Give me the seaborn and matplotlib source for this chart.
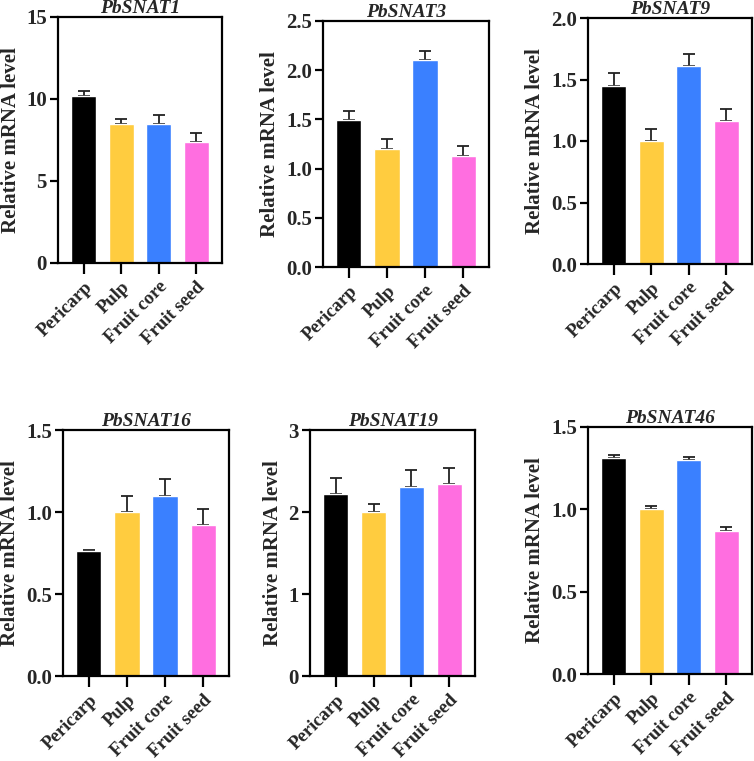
import matplotlib
matplotlib.use('Agg')
import matplotlib.pyplot as plt
import seaborn as sns
import pandas as pd

tissues = ['Pericarp', 'Pulp', 'Fruit core', 'Fruit seed']
colors = ['#000000', '#FFCC3F', '#3A80FF', '#FF6EE0']

genes = ['PbSNAT1', 'PbSNAT3', 'PbSNAT9', 'PbSNAT16', 'PbSNAT19', 'PbSNAT46']

snat1_mean = [10.2, 8.5, 8.5, 7.4]
snat1_err = [0.3, 0.3, 0.5, 0.5]
snat3_mean = [1.49, 1.20, 2.10, 1.13]
snat3_err = [0.10, 0.10, 0.10, 0.10]
snat9_mean = [1.45, 1.00, 1.61, 1.16]
snat9_err = [0.10, 0.10, 0.10, 0.10]
snat16_mean = [0.76, 1.00, 1.10, 0.92]
snat16_err = [0.01, 0.10, 0.10, 0.10]
snat19_mean = [2.22, 2.00, 2.31, 2.34]
snat19_err = [0.20, 0.10, 0.20, 0.20]
snat46_mean = [1.31, 1.00, 1.30, 0.87]
snat46_err = [0.02, 0.02, 0.02, 0.02]

means = [snat1_mean, snat3_mean, snat9_mean, snat16_mean, snat19_mean, snat46_mean]
errs = [snat1_err, snat3_err, snat9_err, snat16_err, snat19_err, snat46_err]
y_max = [15, 2.5, 2.0, 1.5, 3, 1.5]
y_step = [5, 0.5, 0.5, 0.5, 1, 0.5]
y_fmt = ['{:.0f}', '{:.1f}', '{:.1f}', '{:.1f}', '{:.0f}', '{:.1f}']

sns.set_style('ticks')
plt.rcParams['font.family'] = ['Liberation Serif', 'DejaVu Serif']
plt.rcParams['font.weight'] = 'bold'

W, H = 754, 761
# axes boxes in pixels: left, top, right, bottom
boxes = [
    (58, 17, 222, 263),
    (323, 21, 489, 267),
    (588, 18, 752, 264),
    (63, 430, 229, 676),
    (310, 430, 475, 676),
    (588, 427, 752, 674),
]

fig = plt.figure(figsize=(W / 100, H / 100), dpi=100)

for gene, m, e, ym, ys, fmt, (l, t, r, b) in zip(
        genes, means, errs, y_max, y_step, y_fmt, boxes):
    ax = fig.add_axes([l / W, 1 - b / H, (r - l) / W, (b - t) / H])
    df = pd.DataFrame({'tissue': tissues, 'value': m})
    sns.barplot(data=df, x='tissue', y='value', hue='tissue',
                palette=colors, saturation=1, legend=False, width=0.66,
                errorbar=None, ax=ax, zorder=2)
    ax.errorbar(range(len(tissues)), m, yerr=[[0] * len(m), e],
                fmt='none', ecolor='#222222', elinewidth=1.3,
                capsize=4.5, capthick=1.3, zorder=1)
    ax.set_xlim(-0.68, 3.68)
    ax.set_ylim(0, ym)
    ticks = [i * ys for i in range(int(round(ym / ys)) + 1)]
    ax.set_yticks(ticks)
    ax.set_yticklabels([fmt.format(v) for v in ticks])
    ax.set_xticks(range(len(tissues)))
    ax.set_xticklabels(tissues, rotation=45, ha='right',
                       rotation_mode='anchor')
    for s in ax.spines.values():
        s.set_visible(True)
        s.set_linewidth(1.6)
        s.set_color('black')
    ax.tick_params(axis='both', direction='out', width=1.6, length=6,
                   color='black')
    ax.tick_params(axis='y', labelsize=15, pad=2)
    ax.tick_params(axis='x', length=8, pad=3, labelsize=13.5)
    for lab in ax.get_xticklabels() + ax.get_yticklabels():
        lab.set_fontweight('bold')
    ax.set_xlabel('')
    ax.set_ylabel('Relative mRNA level', fontsize=15, fontweight='bold',
                  labelpad=4)
    ax.set_title(gene, fontsize=14, fontweight='bold', style='italic',
                 pad=1)

fig.savefig('out.png', dpi=100)
